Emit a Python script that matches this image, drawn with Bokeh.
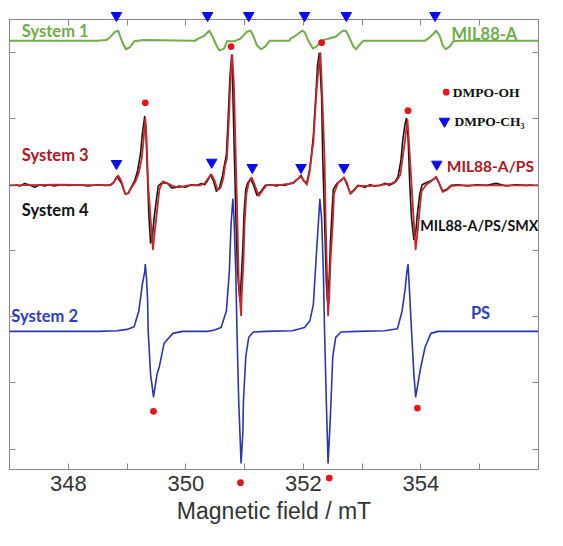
from bokeh.plotting import figure
from bokeh.models import Range1d, LinearAxis, FixedTicker, Label
from bokeh.embed import file_html
from bokeh.resources import INLINE

# ---------------- data (field in mT, derivative signal in a.u.) ----------------
system1 = [(347.00, 0), (348.50, 0), (348.65, 0.01), (348.72, 0.06), (348.79, 0.13), (348.85, 0.15),
           (348.88, 0.07), (348.93, -0.04), (348.98, -0.13), (349.05, -0.10), (349.12, -0.01), (349.28, 0.01),
           (350.16, 0), (350.21, 0.03), (350.31, 0.07), (350.40, 0.15), (350.45, 0.07), (350.52, -0.07),
           (350.57, -0.15), (350.65, -0.12), (350.70, -0.01), (350.82, -0.01), (350.93, 0.03), (351.03, 0.13),
           (351.10, 0.15), (351.15, 0.07), (351.21, -0.07), (351.28, -0.13), (351.35, -0.09), (351.43, 0),
           (351.76, 0), (351.78, 0.03), (351.86, 0.07), (351.98, 0.15), (352.02, 0.13), (352.09, -0.01),
           (352.16, -0.12), (352.22, -0.09), (352.31, 0), (352.42, 0.03), (352.55, 0.06), (352.67, 0.15),
           (352.72, 0.15), (352.77, 0.07), (352.85, -0.09), (352.90, -0.13), (352.95, -0.07), (353.02, 0),
           (354.07, 0), (354.12, 0.03), (354.21, 0.10), (354.26, 0.15), (354.32, 0.07), (354.37, -0.07),
           (354.42, -0.13), (354.49, -0.09), (354.55, -0.01), (354.67, 0), (356.00, 0)]

system2 = [(347.00, 0), (348.50, 0), (348.83, 0.01), (349.00, 0.03), (349.12, 0.07), (349.20, 0.31),
           (349.26, 0.71), (349.30, 0.90), (349.31, 1.01), (349.33, 0.82), (349.35, 0.46), (349.36, 0),
           (349.40, -0.65), (349.45, -0.99), (349.48, -0.82), (349.51, -0.65), (349.55, -0.53), (349.63, -0.18),
           (349.78, -0.03), (349.94, 0), (350.37, 0), (350.49, 0.02), (350.60, 0.06), (350.69, 0.31),
           (350.74, 0.90), (350.77, 1.63), (350.80, 2.00), (350.82, 1.71), (350.85, 0.90), (350.87, 0.01),
           (350.90, -1.06), (350.94, -1.99), (350.97, -1.53), (350.98, -1.06), (351.02, -0.38), (351.07, -0.09),
           (351.15, -0.01), (351.36, 0), (351.81, 0.01), (352.02, 0.06), (352.11, 0.16), (352.17, 0.41),
           (352.22, 1.15), (352.26, 1.71), (352.28, 2.00), (352.31, 1.71), (352.34, 0.90), (352.36, 0.01),
           (352.39, -1.06), (352.42, -1.99), (352.45, -1.46), (352.47, -1.06), (352.50, -0.38), (352.55, -0.09),
           (352.64, -0.01), (352.92, 0), (353.38, 0.01), (353.60, 0.04), (353.68, 0.31), (353.73, 0.63),
           (353.76, 0.90), (353.78, 1.01), (353.79, 0.87), (353.81, 0.53), (353.84, 0.01), (353.88, -0.65),
           (353.91, -0.99), (353.94, -0.84), (353.99, -0.57), (354.07, -0.24), (354.17, -0.03), (354.29, 0),
           (356.00, 0)]

system3 = [(347.00, 0), (347.84, 0.01), (348.72, 0), (348.77, 0.04), (348.85, 0.15), (348.90, 0.07),
           (348.97, -0.13), (349.02, -0.12), (349.08, -0.03), (349.15, 0.07), (349.20, 0.19), (349.25, 0.41),
           (349.28, 0.68), (349.31, 1.01), (349.33, 0.75), (349.36, 0), (349.40, -0.50), (349.44, -0.97),
           (349.46, -0.79), (349.50, -0.47), (349.55, -0.06), (349.61, 0.06), (349.69, 0.03), (349.78, -0.01),
           (349.88, -0.03), (350.04, 0), (350.24, 0), (350.32, 0.03), (350.39, 0.12), (350.44, 0.16),
           (350.49, 0.07), (350.54, -0.07), (350.59, -0.04), (350.64, 0.12), (350.67, 0.31), (350.70, 0.41),
           (350.74, 1.15), (350.76, 1.63), (350.79, 1.97), (350.82, 1.49), (350.85, 0.41), (350.87, -0.28),
           (350.90, -1.46), (350.94, -1.97), (350.95, -1.68), (350.98, -1.16), (351.00, -0.57), (351.03, -0.13),
           (351.07, 0.04), (351.12, 0.12), (351.17, 0.01), (351.24, -0.16), (351.31, -0.07), (351.37, 0),
           (351.64, 0.01), (351.81, 0.03), (351.89, 0.09), (351.96, 0.13), (352.01, 0.07), (352.06, 0.01),
           (352.11, 0.22), (352.14, 0.46), (352.17, 0.65), (352.22, 1.38), (352.26, 1.81), (352.29, 2.00),
           (352.32, 1.38), (352.36, 0.41), (352.38, -0.57), (352.42, -1.97), (352.44, -1.68), (352.46, -1.16),
           (352.50, -0.57), (352.52, -0.13), (352.59, 0.04), (352.69, 0.12), (352.74, 0.04), (352.80, -0.13),
           (352.87, -0.07), (352.93, -0.01), (353.08, -0.01), (353.30, 0), (353.50, 0.03), (353.58, 0.06),
           (353.65, 0.16), (353.69, 0.43), (353.73, 0.68), (353.77, 1.00), (353.79, 0.75), (353.84, 0.01),
           (353.88, -0.57), (353.91, -0.97), (353.94, -0.72), (353.98, -0.35), (354.01, -0.09), (354.09, 0.01),
           (354.17, 0.06), (354.26, 0.13), (354.32, 0.01), (354.37, -0.10), (354.44, -0.07), (354.51, -0.01),
           (354.63, 0), (356.00, 0)]

system4 = [(347.00, 0), (347.10, 0.01), (347.18, -0.01), (347.26, 0.03), (347.35, 0), (347.43, -0.03),
           (347.51, 0.01), (347.60, -0.01), (347.68, 0.01), (347.76, -0.01), (347.88, 0.01), (348.01, 0),
           (348.17, 0.01), (348.34, -0.01), (348.50, 0.01), (348.64, 0), (348.72, 0.01), (348.77, 0.04),
           (348.83, 0.13), (348.90, 0.04), (348.97, -0.13), (349.02, -0.12), (349.08, -0.01), (349.13, 0.07),
           (349.18, 0.22), (349.23, 0.49), (349.26, 0.78), (349.30, 1.04), (349.32, 0.87), (349.35, 0.09),
           (349.37, -0.43), (349.40, -0.87), (349.43, -0.79), (349.46, -0.50), (349.50, -0.21), (349.53, -0.01),
           (349.58, 0.03), (349.63, 0.04), (349.69, 0.03), (349.76, -0.04), (349.83, -0.03), (349.89, -0.01),
           (349.99, -0.03), (350.09, 0.01), (350.19, 0), (350.27, 0.03), (350.32, 0.01), (350.37, 0.07),
           (350.42, 0.16), (350.47, 0.07), (350.52, -0.09), (350.57, -0.04), (350.62, 0.13), (350.65, 0.28),
           (350.69, 0.46), (350.72, 1.01), (350.75, 1.63), (350.78, 1.97), (350.80, 1.41), (350.83, 0.31),
           (350.85, -0.43), (350.88, -1.31), (350.92, -1.75), (350.94, -1.46), (350.97, -0.94), (350.99, -0.43),
           (351.02, -0.06), (351.05, 0.03), (351.10, 0.10), (351.15, 0.01), (351.21, -0.15), (351.28, -0.09),
           (351.35, 0), (351.45, 0.01), (351.54, -0.01), (351.61, 0.01), (351.69, 0), (351.78, 0.03),
           (351.84, 0.04), (351.91, 0.10), (351.96, 0.15), (352.01, 0.06), (352.06, 0.04), (352.11, 0.26),
           (352.14, 0.49), (352.17, 0.75), (352.21, 1.34), (352.24, 1.81), (352.27, 2.00), (352.31, 1.34),
           (352.33, 0.38), (352.36, -0.50), (352.39, -1.46), (352.41, -1.75), (352.44, -1.38), (352.46, -0.87),
           (352.49, -0.35), (352.51, -0.06), (352.57, 0.03), (352.64, 0.07), (352.69, 0.12), (352.74, 0.01),
           (352.80, -0.12), (352.87, -0.06), (352.93, 0), (353.05, -0.03), (353.13, 0.01), (353.21, -0.01),
           (353.30, 0), (353.40, 0.03), (353.46, 0), (353.55, 0.04), (353.61, 0.13), (353.66, 0.38),
           (353.69, 0.68), (353.73, 0.93), (353.75, 1.01), (353.78, 0.75), (353.81, 0.01), (353.84, -0.50),
           (353.88, -0.82), (353.91, -0.72), (353.94, -0.43), (353.98, -0.13), (354.02, 0.01), (354.09, 0.04),
           (354.17, 0.07), (354.26, 0.12), (354.32, 0.01), (354.37, -0.09), (354.44, -0.06), (354.51, 0),
           (354.63, 0.01), (354.79, -0.01), (354.95, 0.01), (355.12, 0), (355.28, 0.03), (355.45, -0.01),
           (355.61, 0.01), (355.78, 0), (356.00, 0.01)]

# DMPO-OH markers (red dots) and DMPO-CH3 markers (blue triangles)
oh_field = [349.31, 350.77, 352.31, 353.78, 349.45, 350.93, 352.44, 353.94]
oh_level = [5.24, 6.09, 6.15, 5.12, 0.57, -0.51, -0.44, 0.62]
ch3_field_s1 = [348.82, 350.37, 351.07, 352.02, 352.73, 354.24]
ch3_level_s1 = [6.56, 6.56, 6.56, 6.56, 6.56, 6.56]
ch3_field_s3 = [348.82, 350.44, 351.13, 351.96, 352.69, 354.27]
ch3_level_s3 = [4.32, 4.34, 4.26, 4.26, 4.26, 4.31]

x_ticks = [348, 349, 350, 351, 352, 353, 354, 355]
x_tick_labels = {348: "348", 349: "", 350: "350", 351: "", 352: "352", 353: "", 354: "354", 355: ""}
y_ticks = [0, 1, 2, 3, 4, 5, 6]

# ---------------- styling / layout ----------------
offsets = {"s1": 6.18, "s2": 1.78, "s3": 3.99, "s4": 3.99}
GREEN = "#70AD47"
RED_LINE = "#C8262B"
RED_TEXT = "#B3141E"
BLUE_LINE = "#2B35B0"
BLUE_TEXT = "#2D3FC8"
AXIS = "#8A8A8A"
DOT = "#E8141B"
TRI = "#0A0AF5"

p = figure(frame_width=529, frame_height=450,
           x_range=Range1d(347.0, 356.0), y_range=Range1d(-0.31, 6.5),
           output_backend="svg", toolbar_location=None,
           min_border_left=9, min_border_right=9, min_border_top=19, min_border_bottom=59)
p.xgrid.visible = False
p.ygrid.visible = False
p.outline_line_color = AXIS
p.background_fill_color = "white"
p.border_fill_color = "white"

xa = p.xaxis[0]
xa.ticker = FixedTicker(ticks=x_ticks)
xa.major_label_overrides = x_tick_labels
xa.major_tick_in = 6
xa.major_tick_out = 0
xa.minor_tick_line_color = None
xa.axis_line_color = AXIS
xa.major_tick_line_color = AXIS
xa.major_label_text_font = "Liberation Sans"
xa.major_label_text_font_size = "22px"
xa.major_label_text_color = "#333333"
xa.major_label_standoff = 6
xa.axis_label = "Magnetic field / mT"
xa.axis_label_text_font = "Liberation Sans"
xa.axis_label_text_font_size = "23px"
xa.axis_label_text_font_style = "normal"
xa.axis_label_text_color = "#333333"
xa.axis_label_standoff = 4

def quiet_axis(ax, ticks):
    ax.ticker = FixedTicker(ticks=ticks)
    ax.major_label_overrides = {t: "" for t in ticks}
    ax.major_label_text_font_size = "1px"
    ax.major_label_standoff = 0
    ax.major_tick_in = 6
    ax.major_tick_out = 0
    ax.minor_tick_line_color = None
    ax.axis_line_color = AXIS
    ax.major_tick_line_color = AXIS

quiet_axis(p.yaxis[0], y_ticks)
ra = LinearAxis()
quiet_axis(ra, y_ticks)
p.add_layout(ra, "right")
ta = LinearAxis()
quiet_axis(ta, x_ticks)
p.add_layout(ta, "above")

def draw(curve, off, color, width):
    xs = [c[0] for c in curve]
    ys = [c[1] + off for c in curve]
    p.line(xs, ys, line_color=color, line_width=width, line_join="round")

draw(system1, offsets["s1"], GREEN, 2)
draw(system2, offsets["s2"], BLUE_LINE, 1.6)
draw(system4, offsets["s4"], "#151515", 1.6)
draw(system3, offsets["s3"], RED_LINE, 1.8)

# "dot" marker: radius is size/8, so a big size keeps the off-frame dots from being culled
p.scatter(oh_field, oh_level, marker="dot", size=27, color=DOT, level="overlay")
p.scatter(ch3_field_s1, ch3_level_s1, marker="inverted_triangle", size=10.5, color=TRI, level="overlay")
p.scatter(ch3_field_s3, ch3_level_s3, marker="inverted_triangle", size=10.5, color=TRI, level="overlay")

# legend markers
p.scatter([354.43], [5.40], marker="dot", size=27, color=DOT, level="overlay")
p.scatter([354.40], [4.96], marker="inverted_triangle", size=10.5, color=TRI, level="overlay")

def lab(x, y, text, color, size="16.5px", font="Lato", style="bold", align="left", baseline="middle"):
    p.add_layout(Label(x=x, y=y, text=text, text_color=color, text_font=font,
                       text_font_size=size, text_font_style=style, text_baseline=baseline,
                       text_align=align))

lab(347.21, 6.32, "System 1", GREEN)
lab(354.52, 6.28, "MIL88-A", GREEN)
lab(347.21, 4.45, "System 3", RED_TEXT)
lab(354.44, 4.29, "MIL88-A/PS", RED_TEXT, size="15.5px")
lab(347.21, 3.62, "System 4", "#111111")
lab(353.99, 3.38, "MIL88-A/PS/SMX", "#111111", size="14.3px")
lab(347.03, 2.01, "System 2", BLUE_TEXT)
lab(354.85, 2.06, "PS", BLUE_TEXT)
lab(354.54, 5.40, "DMPO-OH", "#111111", size="13.5px", font="Liberation Serif")
lab(354.57, 4.96, "DMPO-CH\u2083", "#111111", size="13.5px", font="Liberation Serif")

open("out.html", "w").write(file_html(p, INLINE))
